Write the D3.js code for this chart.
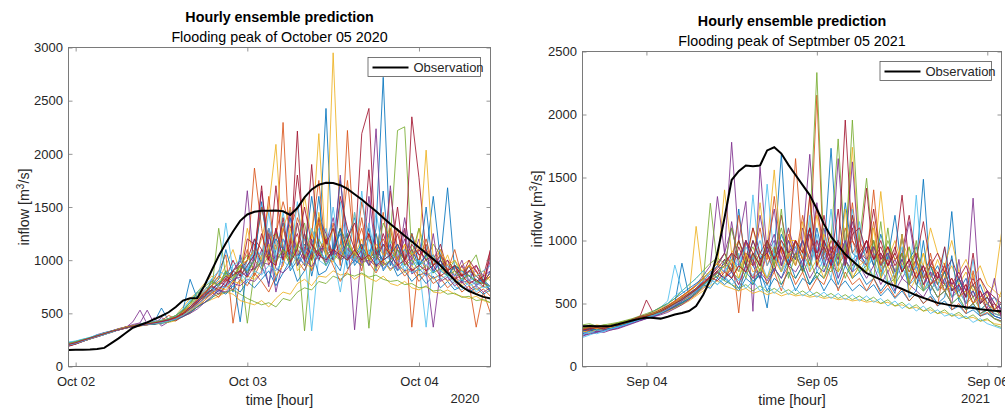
<!DOCTYPE html>
<html><head><meta charset="utf-8">
<script src="https://cdn.jsdelivr.net/npm/d3@7"></script>
<style>body{margin:0;background:#fff;} svg{display:block;font-family:"Liberation Sans",Arial,Helvetica,sans-serif;}</style>
</head><body><svg id="c" width="1005" height="412"></svg>
<script>
// MATLAB default colour order
const colorOrder = ["#0072BD","#D95319","#EDB120","#7E2F8E","#77AC30","#4DBEEE","#A2142F"];

// ---------- Panel 1: October 2020 (hourly, from 2020-10-01 23:00 UTC) ----------
const startOct2020 = Date.UTC(2020, 9, 1, 23);
const endOct2020 = Date.UTC(2020, 9, 4, 10);
const xTicksOct2020 = [Date.UTC(2020,9,2), Date.UTC(2020,9,3), Date.UTC(2020,9,4)];
const yTicksOct2020 = [0,500,1000,1500,2000,2500,3000];
const obsOct2020 = [155,157,158,160,165,175,220,265,315,365, 390,415,445,475,510,560,620,642,645,760, 900,1040,1160,1270,1370,1430,1455,1465,1465,1468, 1460,1425,1490,1590,1665,1710,1728,1725,1705,1670, 1620,1570,1515,1460,1400,1340,1285,1230,1175,1120, 1065,1010,950,880,810,750,710,680,655,640];
const ensOct2020 = [
[205,220,238,265,282,300,330,345,362,380,395,390,410,405,430,455, 520,600,700,650,820,760,900,700,1050,850, 1200,950,780,1100,1350,900,1000,1250,850,1150, 2427,1000,900,1200,1400,1050,950,1300,2720,1100, 900,1000,1250,950,1050,880,1000,1681,900,820, 950,780,820,750],
[195,212,240,258,280,308,322,350,370,376,380,400,395,420,440,470, 490,560,640,720,780,900,1050,407,820,1000, 1866,1300,950,1150,2295,1000,1400,1200,900,1100, 1000,1350,950,2220,1100,900,1250,1050,1450,950, 1100,1300,370,1000,1150,950,1100,900,820,950, 780,370,700,500],
[215,228,245,270,290,310,328,352,368,385,400,410,405,430,450,480, 560,640,700,780,850,820,950,1100,880,1300, 1000,1200,1500,2089,1100,950,1350,1000,1200,2190, 1050,2950,1300,1000,1450,1100,950,1250,1050,1350, 1000,1150,950,1300,1100,1000,900,1050,850,950, 1000,780,850,700],
[200,225,250,268,300,318,330,342,365,420,530,400,460,380,420,450, 500,560,620,680,720,800,760,900,980,1653, 900,1100,750,1300,1000,1450,1050,950,1200,1000, 1150,1400,1050,1250,345,1100,1300,2236,1000,1150, 950,1400,1000,1200,900,370,900,1000,800,950, 850,900,780,1000],
[210,230,248,262,285,305,335,348,372,380,385,395,400,415,425,460, 510,580,700,760,700,1300,850,800,950,407, 900,1050,1250,1000,1100,950,1150,335,1100,1400, 1200,1000,1100,1250,1000,1150,360,1100,1000,1200, 2220,2254,1050,1300,1000,950,1050,900,1000,850, 950,1050,800,850],
[225,235,255,275,295,312,330,350,365,375,390,400,415,440,420,470, 530,620,600,720,780,850,1350,900,800,1000, 1100,900,1300,1150,1000,1250,950,1100,335,1050, 1300,1000,1150,950,1450,1000,1200,950,1050,1000, 1100,900,1000,950,370,1000,900,850,950,800, 900,750,850,700],
[190,210,235,260,278,300,325,345,360,378,392,400,410,418,435,460, 480,520,580,650,720,780,830,1000,850,1200, 1150,950,1300,1000,1200,1050,2214,950,1150,1000, 1200,1050,1300,1100,1050,2190,2427,1000,1250,1050, 1150,1000,2348,1775,1050,1000,1150,900,950,850, 1000,900,780,1050],
[218,232,250,270,292,318,335,352,368,382,400,415,420,550,430,480, 530,820,640,700,760,820,1100,850,420,950, 1050,1500,1150,800,1100,1400,950,1050,1600,1150, 950,1100,1750,1200,950,1050,1300,900,1650,950, 1100,1000,1250,950,1500,880,1000,850,950,800, 900,850,780,900],
[202,218,242,264,288,302,320,345,372,385,390,405,410,400,450,470, 500,560,620,700,680,760,850,800,900,1100, 850,1000,1600,950,1300,1050,1100,1000,1250,1750, 1050,1100,1300,1150,1000,1550,1200,1050,950,1650, 1100,1000,1250,1050,900,1000,950,850,950,780, 900,850,800,700],
[208,222,246,268,286,306,326,344,360,372,380,392,398,405,415,430, 480,520,560,600,630,660,700,680,620,600, 580,620,560,640,700,680,780,820,760,850, 840,900,860,880,820,870,830,800,850,780, 760,800,740,720,760,700,690,720,680,660, 640,660,620,600],
[212,228,240,262,284,310,332,355,370,395,410,530,400,460,420,450, 490,540,610,660,750,700,820,900,1000,850, 1050,1650,1150,700,1000,1500,950,1100,1000,1400, 1250,1050,1800,1000,1150,950,1600,1050,1000,1700, 1000,1200,950,1100,1000,900,1050,950,850,1000, 800,950,850,900],
[198,215,236,258,280,300,322,346,366,380,390,398,405,412,430,480, 520,600,650,640,800,760,900,850,950,1050, 900,1000,1100,1250,1100,1000,1150,1350,1000,1200, 1050,1100,1300,1150,1050,1000,1100,1000,1350,1200, 1000,1100,1050,950,1000,1150,1050,850,950,900, 850,800,780,850],
[230,240,258,272,298,310,328,350,370,380,395,405,412,400,425,470, 480,560,650,700,740,680,780,850,900,1000, 1100,1050,1300,1000,1450,1100,1000,1200,1050,1300, 1100,1000,1550,1050,1000,1100,950,1450,1050,900, 1000,950,880,1000,850,1050,900,850,750,720, 800,700,760,720],
[196,214,238,260,282,304,328,348,366,378,388,398,406,420,440,430, 470,510,560,620,700,760,820,780,900,1000, 1200,1100,1000,1700,1050,1100,1250,1000,1900,1050, 1200,1000,1600,1300,1100,1000,1850,1050,1150,1000, 1500,950,1050,1100,1000,1050,950,1000,900,850, 950,800,850,1100],
[206,224,244,266,290,308,330,350,362,376,385,400,410,420,445,465, 500,550,600,680,720,780,850,900,950,900, 1000,1550,1050,1200,1100,1050,1000,1150,1050,1600, 1000,1100,1250,1000,1050,1150,1000,1100,1000,1050, 1150,1000,1100,950,1050,1600,1000,850,950,900, 850,800,820,700],
[214,230,250,266,284,306,326,348,372,380,385,392,410,430,480,450, 520,560,620,680,760,850,800,900,950,1000, 1100,1500,1200,1250,1550,1300,1500,1100,1250,1100, 1200,1050,1150,1750,1100,1300,1000,1100,1200,1050, 1300,1000,1100,1000,1200,950,1050,900,1100,850, 950,900,800,850],
[204,220,242,260,288,312,330,346,364,380,395,400,415,425,440,460, 500,580,640,700,760,800,860,830,950,1000, 1100,1000,1250,1100,1300,1500,1100,1600,1200,1400, 1050,1300,1100,1200,1050,1200,1000,1150,1050,1100, 1000,1150,1050,1100,2035,1000,1100,950,1000,900, 950,850,900,800],
[210,226,248,266,290,310,334,356,372,384,392,400,408,418,430,450, 480,540,580,640,680,740,760,820,840,900, 920,980,960,1040,1020,1080,1040,1120,1060,1100, 1120,1050,1080,1020,1060,980,1000,940,980,920, 950,900,920,860,880,830,860,810,840,790, 810,770,790,750],
[200,218,240,264,286,306,328,348,368,380,388,396,402,410,420,440, 470,500,560,600,650,680,700,720,680,640, 610,580,600,560,640,620,700,740,720,800, 780,850,820,870,850,880,840,860,820,800, 810,770,780,740,750,710,720,680,690,650, 660,620,630,600],
[222,238,254,270,292,314,332,350,368,380,396,408,420,430,450,480, 540,620,700,760,820,900,860,950,1000,900, 1100,950,1450,1000,1200,1000,1550,1050,1300,1100, 1000,1500,1050,1150,1000,1650,1050,1000,1150,1000, 1050,1100,950,1000,950,1050,900,950,850,900, 800,850,900,950],
[194,212,236,262,286,306,326,344,362,376,386,398,402,414,428,450, 490,540,600,660,720,680,760,900,850,950, 1050,1700,1000,1300,1000,1150,1800,1250,1000,1400, 1150,1300,1000,1200,1350,1100,1250,1000,1150,1050, 1250,1000,1150,1050,1100,950,1000,900,950,850, 900,950,800,880],
[216,230,246,268,290,304,324,348,366,384,392,402,396,410,425,445, 470,510,560,600,640,720,680,760,700,800, 740,820,900,760,880,1000,800,900,1100,860, 900,1050,1300,920,1000,950,1050,1250,900,1000, 850,900,800,870,780,850,740,800,720,760, 700,740,680,720],
[206,222,244,262,284,304,326,350,368,382,394,402,412,420,436,460, 500,540,590,640,700,650,760,720,820,760, 880,800,700,850,950,1200,1000,900,1050,1350, 1100,950,800,900,1050,1400,980,880,1000,1300, 950,850,920,800,880,780,830,740,800,700, 760,680,730,660],
[212,226,244,264,288,310,330,352,370,382,390,398,406,414,426,450, 480,530,570,620,680,740,720,800,780,850, 820,900,1150,860,950,1300,900,980,920,1450, 1050,980,1100,1000,1080,950,1050,920,1000,900, 980,880,950,850,900,820,870,800,840,760, 800,720,760,700],
[202,220,240,262,284,304,326,344,362,374,384,394,408,420,432,448, 470,500,540,600,660,720,700,780,760,820, 800,880,1250,920,880,950,1350,1000,940,1050, 980,1100,1000,1050,980,1100,950,1050,920,1000, 900,1300,870,920,850,1250,800,840,760,800, 720,760,700,740],
[218,234,252,270,290,308,330,350,366,380,392,404,418,432,450,480, 530,600,680,750,800,760,880,820,950,880, 1000,920,1050,980,1100,1000,1150,1050,1000,1100, 950,1050,1000,1150,1050,1100,1000,1050,950,1000, 1100,950,1000,900,950,880,920,850,900,820, 860,800,780,750],
[200,216,238,260,282,300,322,344,362,374,386,396,404,412,426,446, 480,530,580,640,700,760,740,820,880,800, 900,860,950,900,1000,920,1050,960,1100,1000, 950,1050,700,1100,980,1050,1350,1000,920,980, 900,950,880,920,850,900,820,860,780,820, 760,790,740,760],
[208,224,246,266,288,308,330,346,364,378,390,400,410,424,440,462, 500,560,620,690,760,720,800,860,900,840, 950,1250,1000,950,1400,980,1100,1500,1150,1050, 1000,1100,1050,1000,1100,1000,1050,950,1000,1050, 950,1000,900,950,900,950,850,900,820,860, 780,820,750,1100]
];

// ---------- Panel 2: September 2021 (hourly, from 2021-09-03 15:00 UTC) ----------
const startSep2021 = Date.UTC(2021, 8, 3, 15);
const endSep2021 = Date.UTC(2021, 8, 6, 2);
const xTicksSep2021 = [Date.UTC(2021,8,4), Date.UTC(2021,8,5), Date.UTC(2021,8,6)];
const yTicksSep2021 = [0,500,1000,1500,2000,2500];
const obsSep2021 = [320,322,320,320,322,335,350,365,378,388, 385,380,395,412,425,440,480,570,690,900, 1180,1480,1550,1595,1590,1595,1715,1740,1690,1600, 1520,1440,1360,1250,1130,1030,960,890,840,790, 740,715,690,660,640,615,590,565,545,525, 505,495,485,478,470,465,455,448,442,438];
const ensSep2021 = [
[300,290,310,300,320,330,345,360,380,400, 420,440,470,500,820,560,600,640,700,760, 680,900,750,1000,800,700,465,900,1684,800, 1000,750,1100,800,900,1732,850,1000,750,900, 800,1000,700,900,750,850,700,800,1486,700, 800,650,1230,600,700,550,650,500,550,450],
[280,300,290,310,315,325,340,355,375,395, 410,430,460,490,520,550,600,650,700,750, 800,900,425,1000,850,1100,800,950,750,1050, 850,1200,900,2154,800,1000,850,1100,900,1000, 850,1402,800,950,750,900,700,850,650,800, 700,750,600,700,550,650,500,600,450,500],
[290,310,300,320,310,335,350,365,380,390, 400,420,450,470,500,560,1112,650,700,800, 1402,900,1000,800,1100,850,950,1560,900,1100, 800,1000,850,1200,900,1050,800,950,1740,900, 1000,800,1389,850,1000,800,950,750,900,700, 850,700,800,650,750,600,700,550,650,1059],
[260,280,270,300,310,320,340,360,380,400, 420,450,480,520,560,600,650,720,800,1349, 900,1780,1000,1310,438,1584,900,1000,850,1100, 900,1000,1684,900,1100,800,1650,900,1624,850, 1000,800,900,750,850,700,800,650,750,600, 700,650,600,700,550,1336,500,600,450,500],
[300,320,310,330,320,340,355,370,385,400, 415,430,450,480,520,570,620,680,1296,800, 900,750,1000,850,950,800,1000,900,1100,850, 1000,900,1100,2333,900,1000,1806,900,1956,1000, 1494,900,800,1000,850,900,750,850,700,800, 650,750,600,700,550,650,500,550,450,400],
[240,270,280,290,300,315,330,350,370,395, 430,470,520,805,600,560,620,700,650,750, 800,700,900,750,1362,800,1447,850,1000,800, 900,1000,800,950,750,900,800,1000,850,900, 750,900,800,850,700,800,650,1360,700,600, 700,600,650,550,600,500,550,450,400,380],
[280,300,290,310,320,330,345,360,385,528, 420,450,480,510,550,600,640,700,760,820, 900,800,1000,850,1100,900,1000,850,1200,900, 1000,850,1100,900,1000,850,900,1956,1000,900, 1415,850,1000,800,900,1360,800,900,750,850, 700,800,650,750,600,700,550,600,500,450],
[310,300,320,310,330,340,350,370,390,410, 440,470,500,540,580,620,660,700,760,700, 850,750,1250,800,1000,850,950,800,1050,900, 850,1000,800,1100,850,950,800,1300,900,850, 950,800,1050,850,1200,750,850,950,700,800, 650,750,600,700,550,600,500,550,450,420],
[270,290,280,300,305,320,335,350,370,385, 400,420,440,470,500,530,570,620,670,720, 760,700,800,750,850,700,900,800,950,850, 1650,900,800,1000,850,950,800,900,1000,850, 900,1000,800,950,850,900,750,850,700,800, 750,650,700,600,650,550,600,500,450,420],
[320,310,330,320,330,345,360,375,395,410, 430,460,490,520,560,600,640,700,760,820, 700,850,750,900,800,1300,850,900,800,1000, 1000,850,1350,800,1050,900,1000,850,1200,800, 850,950,800,900,750,1000,850,900,800,1100, 900,800,1000,750,850,700,800,650,600,550],
[250,260,280,290,300,310,330,345,365,385, 400,430,460,500,540,580,620,680,740,800, 750,1150,800,900,850,700,950,1250,800,900, 800,1000,850,1300,900,800,950,850,1150,900, 800,950,850,900,750,850,700,800,650,750, 600,700,550,650,500,600,450,500,400,380],
[330,340,320,330,340,350,365,380,400,420, 440,470,500,540,600,650,700,760,820,860, 820,750,700,850,650,780,700,800,650,750, 700,800,650,750,700,800,750,850,700,800, 750,1000,700,1100,650,750,950,650,600,700, 600,650,550,600,500,550,450,500,420,400],
[230,250,270,280,300,310,325,345,365,380, 400,440,500,560,600,650,700,760,700,650, 700,750,680,800,720,850,700,900,750,1000, 850,900,750,1050,800,1250,700,850,750,1150, 800,850,700,900,750,800,650,700,600,650, 550,600,500,550,450,500,400,450,380,360],
[290,280,300,290,310,325,340,360,380,395, 410,430,460,490,530,570,610,660,710,760, 820,900,850,1000,900,800,950,850,1000,900, 950,800,1050,850,1200,900,1000,800,1050,1100, 900,1250,850,950,800,900,1200,850,1150,800, 900,750,850,700,800,650,700,600,550,500],
[260,280,300,290,310,320,340,355,375,390, 405,425,450,480,510,540,580,640,700,740, 700,650,600,700,650,750,600,700,650,750, 600,700,650,720,600,700,620,680,600,650, 600,650,560,620,540,600,520,580,500,560, 480,520,450,480,420,450,400,420,380,360],
[300,320,310,300,320,335,350,370,390,405, 420,450,480,520,560,600,640,700,680,750, 700,800,1200,850,800,900,850,1350,900,800, 1000,850,900,1250,950,850,1000,800,1300,850, 800,1150,750,850,700,1050,650,750,600,900, 650,600,650,550,600,500,550,450,420,400],
[280,270,290,300,310,325,340,355,375,390, 400,420,440,460,490,520,560,600,640,680, 640,620,600,620,580,600,570,590,560,580, 560,570,550,560,540,550,530,540,520,530, 510,520,500,510,480,490,460,470,440,450, 420,430,400,410,380,390,360,370,340,330],
[270,260,280,270,290,300,320,340,360,380, 395,410,430,460,490,530,580,640,720,800, 900,1100,850,1000,800,1200,900,1050,800,1000, 850,1100,900,1000,800,950,850,1000,800,900, 850,950,800,900,750,850,1150,800,650,750, 700,800,650,700,600,650,550,600,500,450],
[310,300,290,310,320,330,345,365,385,400, 410,430,450,470,500,540,580,630,680,720, 680,650,620,650,600,640,590,620,580,610, 570,600,560,590,550,580,540,570,530,560, 520,550,500,530,480,510,460,490,440,470, 420,450,400,430,380,410,360,380,330,310],
[250,280,260,280,300,310,330,350,370,390, 410,440,470,500,540,580,620,680,740,800, 750,850,800,950,850,1000,800,900,750,850, 950,800,1200,750,850,700,1000,800,1250,750, 850,700,800,650,750,950,700,800,600,700, 600,950,550,600,500,850,450,500,420,400],
[300,290,310,320,330,340,355,375,395,410, 425,450,480,510,545,580,620,670,720,780, 850,750,950,800,1000,850,900,750,950,800, 900,750,1350,800,1000,850,1250,800,1100,850, 1000,850,900,800,950,750,850,700,800,650, 750,600,700,550,650,500,600,450,500,400],
[280,300,290,310,300,320,335,355,370,385, 400,420,445,475,505,540,590,650,620,700, 650,700,620,750,680,720,650,780,700,850, 700,800,650,750,700,850,650,800,700,750, 650,700,600,680,580,1050,550,600,1000,580, 500,550,880,520,450,480,420,450,400,380],
[290,310,300,310,320,330,345,365,385,400, 420,440,470,500,535,570,610,660,700,750, 700,780,650,800,700,850,650,750,600,800, 650,750,600,700,650,800,600,750,650,700, 600,700,580,650,550,620,520,580,500,550, 480,820,450,500,420,760,400,430,380,360],
[310,320,300,320,330,340,355,370,390,405, 420,445,475,510,550,590,640,700,760,820, 780,850,700,900,750,800,700,850,750,900, 800,1150,750,850,700,900,750,1250,700,800, 750,1100,700,800,650,1050,600,700,900,650, 700,600,650,550,600,500,550,500,450,600],
[240,260,270,290,290,305,325,345,365,380, 395,420,450,480,520,560,600,650,700,750, 700,750,650,800,700,750,680,780,700,800, 750,850,700,800,750,900,700,850,750,800, 700,800,650,750,600,700,650,600,550,650, 550,600,500,850,450,500,420,460,700,380],
[300,330,310,320,330,345,360,375,390,405, 420,445,470,500,530,570,610,650,700,740, 800,1100,850,700,900,750,1000,800,1250,700, 900,750,850,700,800,750,900,700,850,750, 800,700,1150,650,700,900,650,1000,600,650, 550,600,500,550,450,500,420,450,380,350],
[270,260,290,280,300,315,330,350,370,390, 405,425,455,490,525,560,600,640,690,650, 720,650,700,620,680,600,650,580,640,570, 620,560,600,550,590,540,580,530,570,520, 560,510,540,480,520,460,500,440,480,420, 450,400,420,380,400,350,380,340,320,300],
[290,300,310,300,320,330,350,370,390,400, 415,440,470,500,530,570,610,660,710,680, 750,700,800,750,900,800,1000,850,950,800, 1000,900,1100,850,950,800,1000,850,1200,900, 1000,850,950,800,900,750,850,700,800,650, 700,950,600,650,550,900,500,550,450,420]
];

// ---------- validation ----------
[obsOct2020, obsSep2021, ...ensOct2020, ...ensSep2021].forEach((s, i) => {
  if (s.length !== 60) throw new Error("series " + i + " has length " + s.length);
});

const svg = d3.select("#c");
const axisColor = "#7a7a7a";
const textColor = "#262626";
const fontTick = 13, fontTitle = 14.3;

function panel(o, idx) {
  const x = d3.scaleUtc().domain([o.start, o.end]).range([o.x0, o.x1]);
  const y = d3.scaleLinear().domain([0, o.ymax]).range([o.y1, o.y0]);
  const g = svg.append("g");
  const clipId = "clip" + idx;
  g.append("clipPath").attr("id", clipId).append("rect")
    .attr("x", o.x0).attr("y", o.y0).attr("width", o.x1 - o.x0).attr("height", o.y1 - o.y0);

  const line = d3.line()
    .x((d, i) => x(d3.utcHour.offset(new Date(o.start), i)))
    .y(d => y(d));
  const plot = g.append("g").attr("clip-path", `url(#${clipId})`);
  o.ens.forEach((s, k) => {
    plot.append("path").attr("d", line(s)).attr("fill", "none")
      .attr("stroke", colorOrder[k % colorOrder.length]).attr("stroke-width", 0.85);
  });
  plot.append("path").attr("d", line(o.obs)).attr("fill", "none")
    .attr("stroke", "#000").attr("stroke-width", 2);

  const fmt = d3.utcFormat("%b %d");
  const xt = o.xTicks.map(d => new Date(d));
  const styleAxis = sel => {
    sel.select(".domain").remove();
    sel.selectAll(".tick line").attr("stroke", axisColor).attr("stroke-width", 0.8);
    sel.selectAll(".tick text").attr("fill", textColor).attr("font-size", fontTick)
      .attr("font-family", '"Liberation Sans",Arial,sans-serif');
    sel.attr("font-family", null).attr("font-size", null);
  };
  g.append("g").attr("transform", `translate(0,${o.y1})`)
    .call(d3.axisBottom(x).tickValues(xt).tickFormat(fmt).tickSizeInner(-4).tickSizeOuter(0).tickPadding(10))
    .call(styleAxis);
  g.append("g").attr("transform", `translate(0,${o.y0})`)
    .call(d3.axisTop(x).tickValues(xt).tickFormat("").tickSizeInner(-4).tickSizeOuter(0))
    .call(styleAxis);
  g.append("g").attr("transform", `translate(${o.x0},0)`)
    .call(d3.axisLeft(y).tickValues(o.yTicks).tickFormat(d3.format("d")).tickSizeInner(-4).tickSizeOuter(0).tickPadding(5.5))
    .call(styleAxis);
  g.append("g").attr("transform", `translate(${o.x1},0)`)
    .call(d3.axisRight(y).tickValues(o.yTicks).tickFormat("").tickSizeInner(-4).tickSizeOuter(0))
    .call(styleAxis);
  g.append("rect").attr("x", o.x0).attr("y", o.y0).attr("width", o.x1 - o.x0).attr("height", o.y1 - o.y0)
    .attr("fill", "none").attr("stroke", axisColor).attr("stroke-width", 1);

  const cx = (o.x0 + o.x1) / 2;
  g.append("text").attr("x", cx).attr("y", o.titleY).attr("text-anchor", "middle")
    .attr("font-weight", "bold").attr("font-size", fontTitle).attr("fill", "#000").text(o.title);
  g.append("text").attr("x", cx).attr("y", o.subY).attr("text-anchor", "middle")
    .attr("font-size", fontTitle).attr("fill", "#000").text(o.subtitle);
  g.append("text").attr("x", cx).attr("y", 405).attr("text-anchor", "middle")
    .attr("font-size", fontTitle).attr("fill", textColor).text("time [hour]");
  g.append("text").attr("x", o.yearX).attr("y", 403).attr("text-anchor", "end")
    .attr("font-size", fontTick).attr("fill", textColor).text(o.year);
  const yl = g.append("text").attr("transform", `translate(${o.ylabX},${(o.y0 + o.y1) / 2}) rotate(-90)`)
    .attr("text-anchor", "middle").attr("font-size", fontTitle).attr("fill", textColor);
  yl.append("tspan").text("inflow [m");
  yl.append("tspan").attr("dy", -5.5).attr("font-size", 10).text("3");
  yl.append("tspan").attr("dy", 5.5).text("/s]");

  // legend
  const lg = g.append("g");
  lg.append("rect").attr("x", o.lx).attr("y", o.ly).attr("width", o.lw).attr("height", 19)
    .attr("fill", "#fff").attr("stroke", "#555").attr("stroke-width", 0.8);
  lg.append("line").attr("x1", o.lx + 4.5).attr("x2", o.lx + 40.5).attr("y1", o.ly + 10).attr("y2", o.ly + 10)
    .attr("stroke", "#000").attr("stroke-width", 2);
  lg.append("text").attr("x", o.lx + 45.5).attr("y", o.ly + 14.5).attr("font-size", fontTick)
    .attr("fill", textColor).text("Observation");
}

panel({
  start: startOct2020, end: endOct2020, x0: 68.5, x1: 490.5, y0: 47.5, y1: 366.5,
  ymax: 3000, yTicks: yTicksOct2020, xTicks: xTicksOct2020, obs: obsOct2020, ens: ensOct2020,
  title: "Hourly ensemble prediction", subtitle: "Flooding peak of October 05 2020",
  titleY: 21.5, subY: 42, year: "2020", yearX: 479.5, ylabX: 29,
  lx: 368, ly: 57.5, lw: 112.5
}, 0);
panel({
  start: startSep2021, end: endSep2021, x0: 582.5, x1: 1001.5, y0: 51.5, y1: 366.5,
  ymax: 2500, yTicks: yTicksSep2021, xTicks: xTicksSep2021, obs: obsSep2021, ens: ensSep2021,
  title: "Hourly ensemble prediction", subtitle: "Flooding peak of Septmber 05 2021",
  titleY: 25.5, subY: 46, year: "2021", yearX: 990, ylabX: 542,
  lx: 880, ly: 61.5, lw: 111.5
}, 1);
</script>
</body></html>
